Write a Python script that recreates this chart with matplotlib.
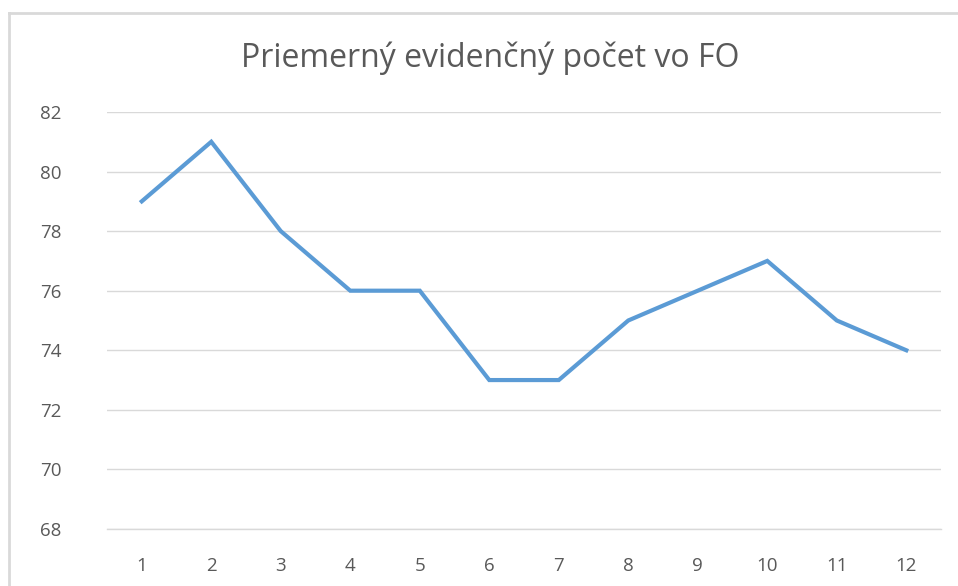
import matplotlib
matplotlib.use('Agg')
import matplotlib.pyplot as plt
from matplotlib.lines import Line2D

months = [1, 2, 3, 4, 5, 6, 7, 8, 9, 10, 11, 12]
values = [79, 81, 78, 76, 76, 73, 73, 75, 76, 77, 75, 74]
y_ticks = [68, 70, 72, 74, 76, 78, 80, 82]
title = 'Priemerný evidenčný počet vo FO'

plt.rcParams['font.family'] = ['Open Sans', 'DejaVu Sans']
text_color = '#595959'
grid_color = '#d9d9d9'

fig = plt.figure(figsize=(9.58, 5.86), dpi=100)
ax = fig.add_axes([0.1117, 0.0973, 0.8706, 0.7116])

ax.plot(months, values, color='#5b9bd5', linewidth=3.0, solid_joinstyle='miter', zorder=3)

ax.set_xlim(0.5, 12.5)
ax.set_ylim(68, 82)
ax.set_xticks(months)
ax.set_yticks(y_ticks)
ax.yaxis.grid(True, color=grid_color, linewidth=1.0)
ax.set_axisbelow(True)
for s in ['top', 'right', 'left']:
    ax.spines[s].set_visible(False)
ax.spines['bottom'].set_color(grid_color)
ax.spines['bottom'].set_linewidth(1.0)
ax.tick_params(axis='both', length=0, labelsize=13.5, colors=text_color, pad=20)
ax.tick_params(axis='y', pad=33)

fig.text(490 / 958, 1 - 58 / 586, title, ha='center', va='center', fontsize=23, color=text_color)

# chart border (only top and left visible in the crop)
fig.add_artist(Line2D([9 / 958, 9 / 958], [0, 1 - 13 / 586], transform=fig.transFigure, color='#d9d9d9', linewidth=2))
fig.add_artist(Line2D([9 / 958, 1], [1 - 13 / 586, 1 - 13 / 586], transform=fig.transFigure, color='#d9d9d9', linewidth=2))

fig.savefig('out.png', dpi=100, facecolor='white')
